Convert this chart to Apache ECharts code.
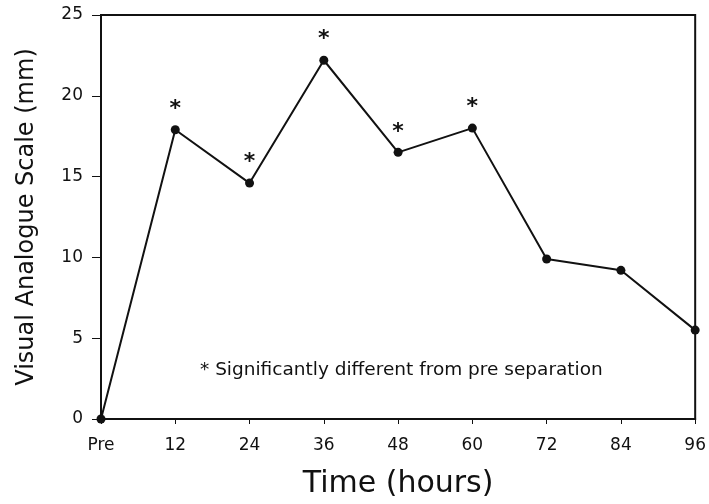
<!DOCTYPE html>
<html>
<head>
<meta charset="utf-8">
<script src="https://cdn.jsdelivr.net/npm/echarts@6/dist/echarts.min.js"></script>
<style>html,body{margin:0;padding:0;background:#fff}#c{width:709px;height:504px}</style>
</head>
<body>
<div id="c"></div>
<script>
const categories = ['Pre','12','24','36','48','60','72','84','96'];
const vasValues = [0, 17.9, 14.6, 22.2, 16.5, 18.0, 9.9, 9.2, 5.5];
const significant = [false, true, true, true, true, true, false, false, false];
const yTicks = [0, 5, 10, 15, 20, 25];
const noteText = '* Significantly different from pre separation';
const xTitle = 'Time (hours)';
const yTitle = 'Visual Analogue Scale (mm)';

const font = 'DejaVu Sans';
const chart = echarts.init(document.getElementById('c'));
chart.setOption({
  backgroundColor: '#fff',
  animation: false,
  grid: {left: 101, right: 8, top: 15, bottom: 85, show: true, borderColor: '#111', borderWidth: 2, backgroundColor: 'transparent'},
  xAxis: {
    type: 'category', data: categories, boundaryGap: false,
    name: xTitle, nameLocation: 'middle', nameGap: 50,
    nameTextStyle: {fontFamily: font, fontSize: 30, color: '#111'},
    axisLine: {lineStyle: {color: '#111', width: 2}},
    axisTick: {length: 5, lineStyle: {color: '#111'}},
    axisLabel: {fontFamily: font, fontSize: 17, color: '#111', margin: 18},
    splitLine: {show: false}
  },
  yAxis: {
    type: 'value', min: yTicks[0], max: yTicks[yTicks.length-1], interval: 5,
    name: yTitle, nameLocation: 'middle', nameGap: 62,
    nameTextStyle: {fontFamily: font, fontSize: 24, color: '#111'},
    axisLine: {show: true, lineStyle: {color: '#111', width: 2}},
    axisTick: {show: true, length: 9, lineStyle: {color: '#111'}},
    axisLabel: {fontFamily: font, fontSize: 17, color: '#111', margin: 18},
    splitLine: {show: false}
  },
  graphic: [{
    type: 'text', left: 200, top: 361,
    style: {text: noteText, fontFamily: font, fontSize: 18.5, fill: '#111'}
  }],
  series: [{
    type: 'line',
    data: vasValues.map((v, i) => ({
      value: v,
      label: {show: significant[i], formatter: '*', position: 'top', distance: 5, fontSize: 22, fontWeight: 'bold', fontFamily: font, color: '#111'}
    })),
    symbol: 'circle', symbolSize: 9,
    itemStyle: {color: '#111'},
    lineStyle: {color: '#111', width: 2},
    clip: false
  }]
});
</script>
</body>
</html>
